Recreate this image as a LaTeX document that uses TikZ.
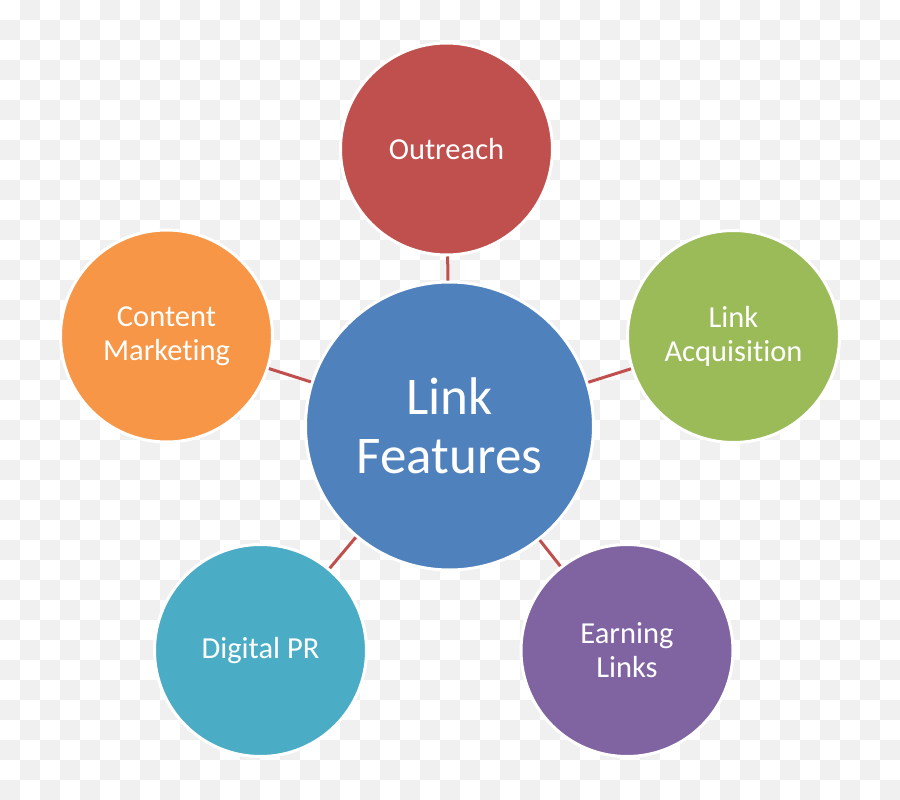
\documentclass[tikz,border=0pt]{standalone}
\usepackage{fontspec}
\setsansfont{Carlito}[Ligatures=NoCommon]
\usetikzlibrary{positioning}
\definecolor{hubblue}{HTML}{4F81BD}
\definecolor{outred}{HTML}{C0504D}
\definecolor{acqgreen}{HTML}{9BBB59}
\definecolor{earnviolet}{HTML}{8064A2}
\definecolor{prteal}{HTML}{4BACC6}
\definecolor{contorange}{HTML}{F79646}
\definecolor{checkgray}{HTML}{F0F0F0}
\tikzset{
	bubble/.style={
		circle,
		draw=white, line width=3pt,
		minimum size=212pt,
		inner sep=0pt,
		text=white,
		align=center,
		font=\sffamily\fontsize{30.5}{34}\selectfont},
	hub/.style={
		bubble,
		minimum size=288pt,
		font=\sffamily\fontsize{53}{59}\selectfont},
	spoke/.style={draw=outred, line width=3pt},
	checker/.style={fill=checkgray},
}

\begin{document}
\begin{tikzpicture}[x=1pt,y=-1pt,font=\sffamily]
	\useasboundingbox (0,0) rectangle (900,800);
	% checkered backdrop
	\fill[white] (0,0) rectangle (900,800);
	\foreach \x in {0,40,...,880}
		\foreach \y in {0,40,...,760} {
			\fill[checker] (\x+20,\y) rectangle +(20,20);
			\fill[checker] (\x,\y+20) rectangle +(20,20);
		}

	\node[hub, fill=hubblue] (hub) at (449.5,426) {Link\\Features};
	\node[bubble, fill=outred] (outreach) at (446.5,149) {Outreach};
	\node[bubble, fill=acqgreen] (acquisition) at (733.5,336.5) {Link\\Acquisition};
	\node[bubble, fill=earnviolet] (earning) at (627,650.5) {Earning\\Links};
	\node[bubble, fill=prteal] (digitalpr) at (260.5,650.5) {Digital PR};
	\node[bubble, fill=contorange] (content) at (166.5,336) {Content\\Marketing};

	\draw[spoke] (hub) -- (outreach);
	\draw[spoke] (hub) -- (acquisition);
	\draw[spoke] (hub) -- (earning);
	\draw[spoke] (hub) -- (digitalpr);
	\draw[spoke] (hub) -- (content);
\end{tikzpicture}
\end{document}
